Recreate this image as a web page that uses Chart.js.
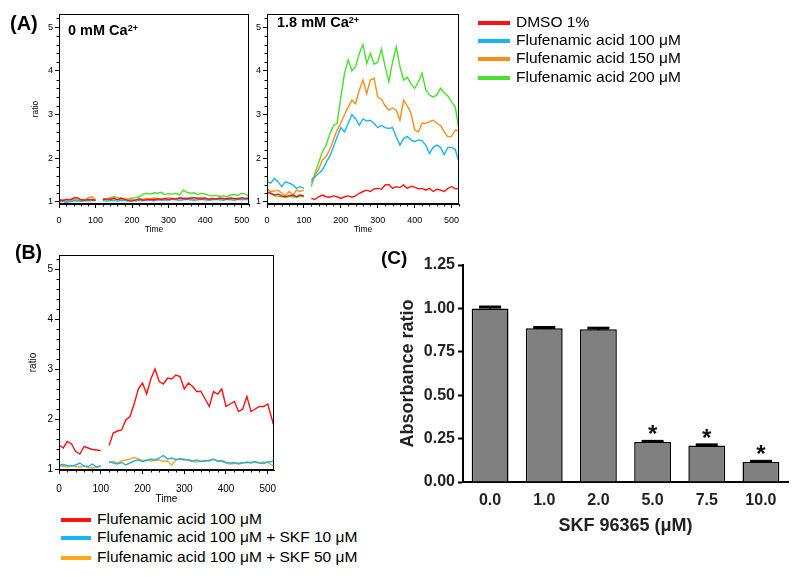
<!DOCTYPE html>
<html>
<head>
<meta charset="utf-8">
<script src="https://cdn.jsdelivr.net/npm/chart.js@4.4.0/dist/chart.umd.min.js"></script>
<style>
  body { margin: 0; background: #fff; width: 800px; height: 577px; position: relative; overflow: hidden;
         font-family: "Liberation Sans", Arial, sans-serif; color: #000; }
  canvas { position: absolute; }
  .lbl { position: absolute; font-weight: bold; line-height: 1; white-space: nowrap; }
  .lbl sup { font-size: 0.62em; vertical-align: 0.45em; line-height: 0; }
  .row { position: absolute; white-space: nowrap; font-size: 15.5px; height: 19px; line-height: 19px; }
  .row i { display: inline-block; height: 4px; vertical-align: middle; margin-right: 6px; }
</style>
</head>
<body>
<canvas id="cA1" width="261" height="236" style="left:0;top:0"></canvas>
<canvas id="cA2" width="222" height="236" style="left:249px;top:0"></canvas>
<canvas id="cB" width="290" height="269" style="left:0;top:236px"></canvas>
<canvas id="cC" width="420" height="310" style="left:380px;top:240px"></canvas>

<div class="lbl" style="left:10px;top:13px;font-size:20px">(A)</div>
<div class="lbl" style="left:15px;top:243px;font-size:19.5px">(B)</div>
<div class="lbl" style="left:381px;top:248px;font-size:19px">(C)</div>
<div class="lbl" style="left:68px;top:23px;font-size:14.5px">0 mM Ca<sup>2+</sup></div>
<div class="lbl" style="left:277px;top:15px;font-size:14.5px">1.8 mM Ca<sup>2+</sup></div>

<div id="legA"></div>
<div id="legB"></div>

<script>
Chart.defaults.font.family = '"Liberation Sans", Arial, sans-serif';
Chart.defaults.color = '#000';

// ---- data ----
const timeA = [0,10,20,30,40,50,60,70,80,90,100,110,120,130,140,150,160,170,180,190,200,210,
  220,230,240,250,260,270,280,290,300,310,320,330,340,350,360,370,380,390,400,410,420,430,
  440,450,460,470,480,490,500,510,520];
const timeB = [0,10,20,30,40,50,60,70,80,90,100,110,120,130,140,150,160,170,180,190,200,210,
  220,230,240,250,260,270,280,290,300,310,320,330,340,350,360,370,380,390,400,410,420,430,
  440,450,460,470,480,490,500,510,515];

// (A) 0 mM Ca2+
const a1Dmso = [1.05,1.03,1.06,1.05,1.09,1.10,1.05,1.04,1.06,1.05,1.04,null,
  1.05,1.07,1.06,1.08,1.05,1.09,1.06,1.03,1.02,1.05,1.07,1.04,1.05,1.06,1.05,1.07,1.06,1.08,
  1.06,1.08,1.07,1.09,1.08,1.07,1.09,1.10,1.08,1.07,1.09,1.06,1.08,1.07,1.09,1.08,1.07,1.09,
  1.08,1.07,1.10,1.08,1.09];
const a1Flu100 = [1.00,1.02,0.99,1.01,1.02,1.03,1.01,1.03,1.02,1.04,1.03,null,
  1.03,1.02,1.04,1.03,1.02,1.04,1.03,1.02,1.03,1.02,1.04,1.03,1.05,1.04,1.03,1.05,1.04,1.05,
  1.04,1.06,1.05,1.04,1.05,1.06,1.05,1.04,1.05,1.06,1.05,1.04,1.05,1.06,1.05,1.04,1.06,1.05,
  1.04,1.06,1.05,1.06,1.05];
const a1Flu150 = [1.03,1.04,1.02,1.05,1.04,1.03,1.05,1.04,1.10,1.12,1.05,null,
  1.06,1.05,1.08,1.10,1.06,1.05,1.07,1.05,1.06,1.04,1.07,1.06,1.08,1.07,1.09,1.08,1.07,1.08,
  1.10,1.08,1.07,1.09,1.08,1.10,1.08,1.07,1.09,1.11,1.08,1.07,1.08,1.06,1.08,1.07,1.09,1.08,
  1.07,1.09,1.08,1.07,1.08];
const a1Flu200 = [1.04,1.05,1.03,1.06,1.05,1.07,1.05,1.06,1.04,1.06,1.05,null,
  1.08,1.06,1.10,1.12,1.10,1.08,1.06,1.07,1.09,1.10,1.12,1.18,1.20,1.18,1.21,1.20,1.22,1.17,
  1.19,1.18,1.20,1.16,1.27,1.22,1.20,1.21,1.17,1.20,1.18,1.15,1.14,1.15,1.13,1.14,1.12,1.16,
  1.17,1.15,1.20,1.18,1.13];

// (A) 1.8 mM Ca2+
const a2Dmso = [1.21,1.20,1.16,1.18,1.14,1.12,1.14,1.16,1.12,1.16,1.14,null,
  1.08,1.06,1.12,1.16,1.12,1.11,1.14,1.12,1.08,1.12,1.14,1.11,1.14,1.20,1.24,1.27,1.24,1.30,
  1.31,1.29,1.39,1.40,1.31,1.35,1.33,1.39,1.31,1.36,1.34,1.30,1.31,1.27,1.31,1.24,1.29,1.27,
  1.24,1.31,1.35,1.30,1.31];
const a2Flu100 = [1.46,1.43,1.54,1.46,1.35,1.46,1.43,1.39,1.31,1.35,1.31,null,
  1.45,1.58,1.65,1.73,1.90,2.05,2.26,2.49,2.70,2.60,2.80,3.00,2.90,2.76,2.90,2.85,2.87,2.80,
  2.70,2.75,2.70,2.68,2.70,2.49,2.30,2.45,2.50,2.42,2.38,2.42,2.40,2.30,2.11,2.25,2.30,2.25,
  2.08,2.25,2.25,2.20,1.90];
const a2Flu150 = [1.30,1.24,1.25,1.27,1.20,1.14,1.24,1.16,1.27,1.24,1.27,null,
  1.50,1.62,1.75,1.96,2.04,2.20,2.42,2.65,2.80,3.00,3.17,3.33,3.25,3.56,3.79,3.48,3.79,3.83,
  3.40,3.35,3.20,3.10,3.15,3.10,2.87,3.33,3.20,3.03,2.65,2.60,2.80,2.80,2.84,2.87,2.80,2.75,
  2.60,2.49,2.50,2.65,2.62];
const a2Flu200 = [1.31,1.20,1.14,1.13,1.12,1.11,1.13,1.12,1.11,1.13,1.12,null,
  1.35,1.66,1.90,2.15,2.30,2.55,2.75,2.80,3.40,3.95,4.25,4.00,4.10,4.40,4.60,4.17,4.40,4.15,
  4.20,4.50,4.09,3.75,4.20,4.55,4.10,3.79,3.85,3.70,3.60,3.75,3.95,3.56,3.45,3.40,3.45,3.60,
  3.50,3.42,3.29,3.17,2.65];

// (B)
const bFlu100 = [1.48,1.42,1.55,1.50,1.35,1.30,1.45,1.42,1.39,1.38,1.37,null,
  1.47,1.72,1.76,1.78,1.98,2.05,2.30,2.60,2.72,2.50,2.80,3.00,2.75,2.70,2.82,2.80,2.88,2.85,
  2.60,2.72,2.65,2.55,2.55,2.40,2.25,2.55,2.50,2.60,2.25,2.30,2.35,2.15,2.20,2.45,2.15,2.20,
  2.25,2.25,2.30,2.00,1.85];
const bSkf10 = [1.08,1.09,1.07,1.06,1.08,1.12,1.06,1.05,1.10,1.04,1.05,null,
  1.15,1.12,1.10,1.13,1.08,1.12,1.16,1.18,1.15,1.17,1.20,1.18,1.22,1.27,1.20,1.22,1.19,1.20,
  1.18,1.19,1.16,1.18,1.15,1.17,1.16,1.20,1.15,1.17,1.13,1.12,1.13,1.10,1.12,1.14,1.12,1.15,
  1.12,1.11,1.14,1.15,1.16];
const bSkf50 = [1.05,1.06,1.04,1.07,1.05,1.04,1.06,1.03,1.02,1.04,1.07,null,
  1.13,1.15,1.12,1.16,1.18,1.20,1.23,1.20,1.17,1.18,1.16,1.17,1.18,1.15,1.16,1.08,1.18,1.21,
  1.20,1.17,1.15,1.14,1.16,1.15,1.18,1.19,1.17,1.15,1.12,1.10,1.11,1.12,1.13,1.12,1.14,1.13,
  1.12,1.14,1.13,1.08,1.04];

// (C)
const skfDoses = ['0.0', '1.0', '2.0', '5.0', '7.5', '10.0'];
const absRatio = [1.0, 0.885, 0.88, 0.23, 0.21, 0.115];
const absErr = [0.008, 0.005, 0.006, 0.004, 0.004, 0.004];
const signif = ['', '', '', '*', '*', '*'];

const legendA = ['DMSO 1%', 'Flufenamic acid 100 μM', 'Flufenamic acid 150 μM', 'Flufenamic acid 200 μM'];
const legendB = ['Flufenamic acid 100 μM', 'Flufenamic acid 100 μM + SKF 10 μM', 'Flufenamic acid 100 μM + SKF 50 μM'];

const RED = '#ff1010', BLUE = '#19b5ef', ORANGE = '#ff8c1a', GREEN = '#48e02c', AMBER = '#ffa91a';

// box around plot + minor ticks
const framePlugin = {
  id: 'frame',
  afterDraw(chart, args, opts) {
    const ctx = chart.ctx, a = chart.chartArea;
    const xs = chart.scales.x, ys = chart.scales.y;
    ctx.save();
    ctx.strokeStyle = '#000';
    ctx.lineWidth = 1;
    ctx.strokeRect(a.left + 0.5, a.top + 0.5, a.right - a.left - 1, a.bottom - a.top - 1);
    ctx.beginPath();
    for (let k = Math.ceil(ys.min / opts.yStep); k * opts.yStep <= ys.max; k++) {
      const v = k * opts.yStep;
      if (Math.abs(v - Math.round(v)) < 1e-6) continue;
      const py = Math.round(ys.getPixelForValue(v)) + 0.5;
      ctx.moveTo(a.left - opts.len, py);
      ctx.lineTo(a.left, py);
    }
    for (let k = Math.ceil(xs.min / opts.xStep); k * opts.xStep <= xs.max; k++) {
      const v = k * opts.xStep;
      if (v % 100 === 0) continue;
      const px = Math.round(xs.getPixelForValue(v)) + 0.5;
      ctx.moveTo(px, a.bottom);
      ctx.lineTo(px, a.bottom + opts.len);
    }
    ctx.stroke();
    ctx.restore();
  }
};

function traceChart(id, times, series, cfg) {
  return new Chart(document.getElementById(id), {
    type: 'line',
    data: {
      datasets: series.map(s => ({
        data: times.map((t, i) => ({ x: t, y: s.values[i] })),
        borderColor: s.color,
        borderWidth: 1.4,
        pointRadius: 0,
        tension: 0,
        spanGaps: false
      }))
    },
    options: {
      responsive: false,
      animation: false,
      layout: { padding: cfg.pad },
      plugins: {
        legend: { display: false },
        tooltip: { enabled: false },
        frame: { yStep: 0.2, xStep: 20, len: 2.5 }
      },
      scales: {
        x: {
          type: 'linear', min: 0, max: cfg.xMax,
          afterFit: s => { s.height = cfg.xH; },
          ticks: { stepSize: 100, includeBounds: false, autoSkip: false, maxRotation: 0,
                   font: { size: cfg.fs }, padding: cfg.tickPad },
          grid: { drawOnChartArea: false, tickLength: 4, color: '#000' },
          border: { color: '#000' },
          title: { display: true, text: 'Time', font: { size: cfg.ts }, padding: { top: 0, bottom: cfg.timePad } }
        },
        y: {
          min: cfg.yMin, max: cfg.yMax,
          afterFit: s => { s.width = cfg.yW; },
          ticks: { stepSize: 1, includeBounds: false, autoSkip: false, font: { size: cfg.fs }, padding: 2 },
          grid: { drawOnChartArea: false, tickLength: 4, color: '#000' },
          border: { color: '#000' },
          title: { display: cfg.ratio, text: 'ratio', font: { size: cfg.ts }, padding: { top: cfg.ratioPad, bottom: 0 } }
        }
      }
    },
    plugins: [framePlugin]
  });
}

traceChart('cA1', timeA, [
  { values: a1Dmso, color: RED },
  { values: a1Flu100, color: BLUE },
  { values: a1Flu150, color: ORANGE },
  { values: a1Flu200, color: GREEN }
], { pad: { top: 14, right: 12, left: 0, bottom: 0 }, xMax: 520, xH: 32, yW: 59, yMin: 0.954, yMax: 5.3,
     fs: 9, ts: 8.5, tickPad: 7, timePad: 1, ratio: true, ratioPad: 31 });

traceChart('cA2', timeA, [
  { values: a2Dmso, color: RED },
  { values: a2Flu100, color: BLUE },
  { values: a2Flu150, color: ORANGE },
  { values: a2Flu200, color: GREEN }
], { pad: { top: 14, right: 12, left: 0, bottom: 0 }, xMax: 520, xH: 32, yW: 18, yMin: 0.954, yMax: 5.3,
     fs: 9, ts: 8.5, tickPad: 7, timePad: 1, ratio: false, ratioPad: 0 });

traceChart('cB', timeB, [
  { values: bFlu100, color: RED },
  { values: bSkf10, color: BLUE },
  { values: bSkf50, color: AMBER }
], { pad: { top: 19, right: 16, left: 0, bottom: 0 }, xMax: 515, xH: 35, yW: 59, yMin: 0.98, yMax: 5.28,
     fs: 10, ts: 10, tickPad: 9, timePad: 0, ratio: true, ratioPad: 27 });

// error bars and significance marks for (C)
const errorBarPlugin = {
  id: 'errbars',
  afterDatasetsDraw(chart) {
    const ctx = chart.ctx, ys = chart.scales.y;
    const bars = chart.getDatasetMeta(0).data;
    ctx.save();
    ctx.strokeStyle = '#000';
    bars.forEach((bar, i) => {
      const top = ys.getPixelForValue(absRatio[i] + absErr[i]);
      const bot = ys.getPixelForValue(absRatio[i] - absErr[i]);
      ctx.lineWidth = 2;
      ctx.beginPath();
      ctx.moveTo(bar.x, top); ctx.lineTo(bar.x, bot);
      ctx.stroke();
      ctx.lineWidth = 3;
      ctx.beginPath();
      ctx.moveTo(bar.x - 11, top); ctx.lineTo(bar.x + 11, top);
      ctx.stroke();
      if (signif[i]) {
        ctx.fillStyle = '#111';
        ctx.font = 'bold 24px "Liberation Sans", Arial, sans-serif';
        ctx.textAlign = 'center';
        ctx.textBaseline = 'alphabetic';
        ctx.fillText(signif[i], bar.x, top + 1);
      }
    });
    ctx.restore();
  }
};

new Chart(document.getElementById('cC'), {
  type: 'bar',
  data: {
    labels: skfDoses,
    datasets: [{
      data: absRatio,
      backgroundColor: '#808080',
      borderColor: '#000',
      borderWidth: 1.5,
      barPercentage: 0.68,
      categoryPercentage: 1
    }]
  },
  options: {
    responsive: false,
    animation: false,
    layout: { padding: { top: 25, right: 12, left: 0, bottom: 0 } },
    plugins: { legend: { display: false }, tooltip: { enabled: false } },
    scales: {
      x: {
        afterFit: s => { s.height = 68; },
        grid: { display: false },
        border: { color: '#000', width: 2 },
        ticks: { font: { size: 16, weight: 'bold' }, color: '#222', padding: 1 },
        title: { display: true, text: 'SKF 96365 (μM)', font: { size: 18, weight: 'bold' }, color: '#222',
                 padding: { top: 0, bottom: 13 } }
      },
      y: {
        min: 0, max: 1.25,
        afterFit: s => { s.width = 83; },
        ticks: { stepSize: 0.25, callback: v => v.toFixed(2), font: { size: 16, weight: 'bold' }, color: '#222', padding: 3 },
        grid: { drawOnChartArea: false, tickLength: 5, tickWidth: 2, color: '#000' },
        border: { color: '#000', width: 2 },
        title: { display: true, text: 'Absorbance ratio', font: { size: 18, weight: 'bold' }, color: '#222',
                 padding: { top: 17, bottom: 0 } }
      }
    }
  },
  plugins: [errorBarPlugin]
});

// html legends
function buildLegend(elId, names, colors, left, tops, lineW) {
  const el = document.getElementById(elId);
  names.forEach((n, i) => {
    const row = document.createElement('div');
    row.className = 'row';
    row.style.left = left + 'px';
    row.style.top = tops[i] + 'px';
    const ln = document.createElement('i');
    ln.style.width = lineW + 'px';
    ln.style.background = colors[i];
    row.appendChild(ln);
    row.appendChild(document.createTextNode(n));
    el.appendChild(row);
  });
}
buildLegend('legA', legendA, [RED, BLUE, ORANGE, GREEN], 478, [12, 30, 48, 67], 32);
buildLegend('legB', legendB, [RED, BLUE, AMBER], 61, [509, 527, 547], 30);
</script>
</body>
</html>
